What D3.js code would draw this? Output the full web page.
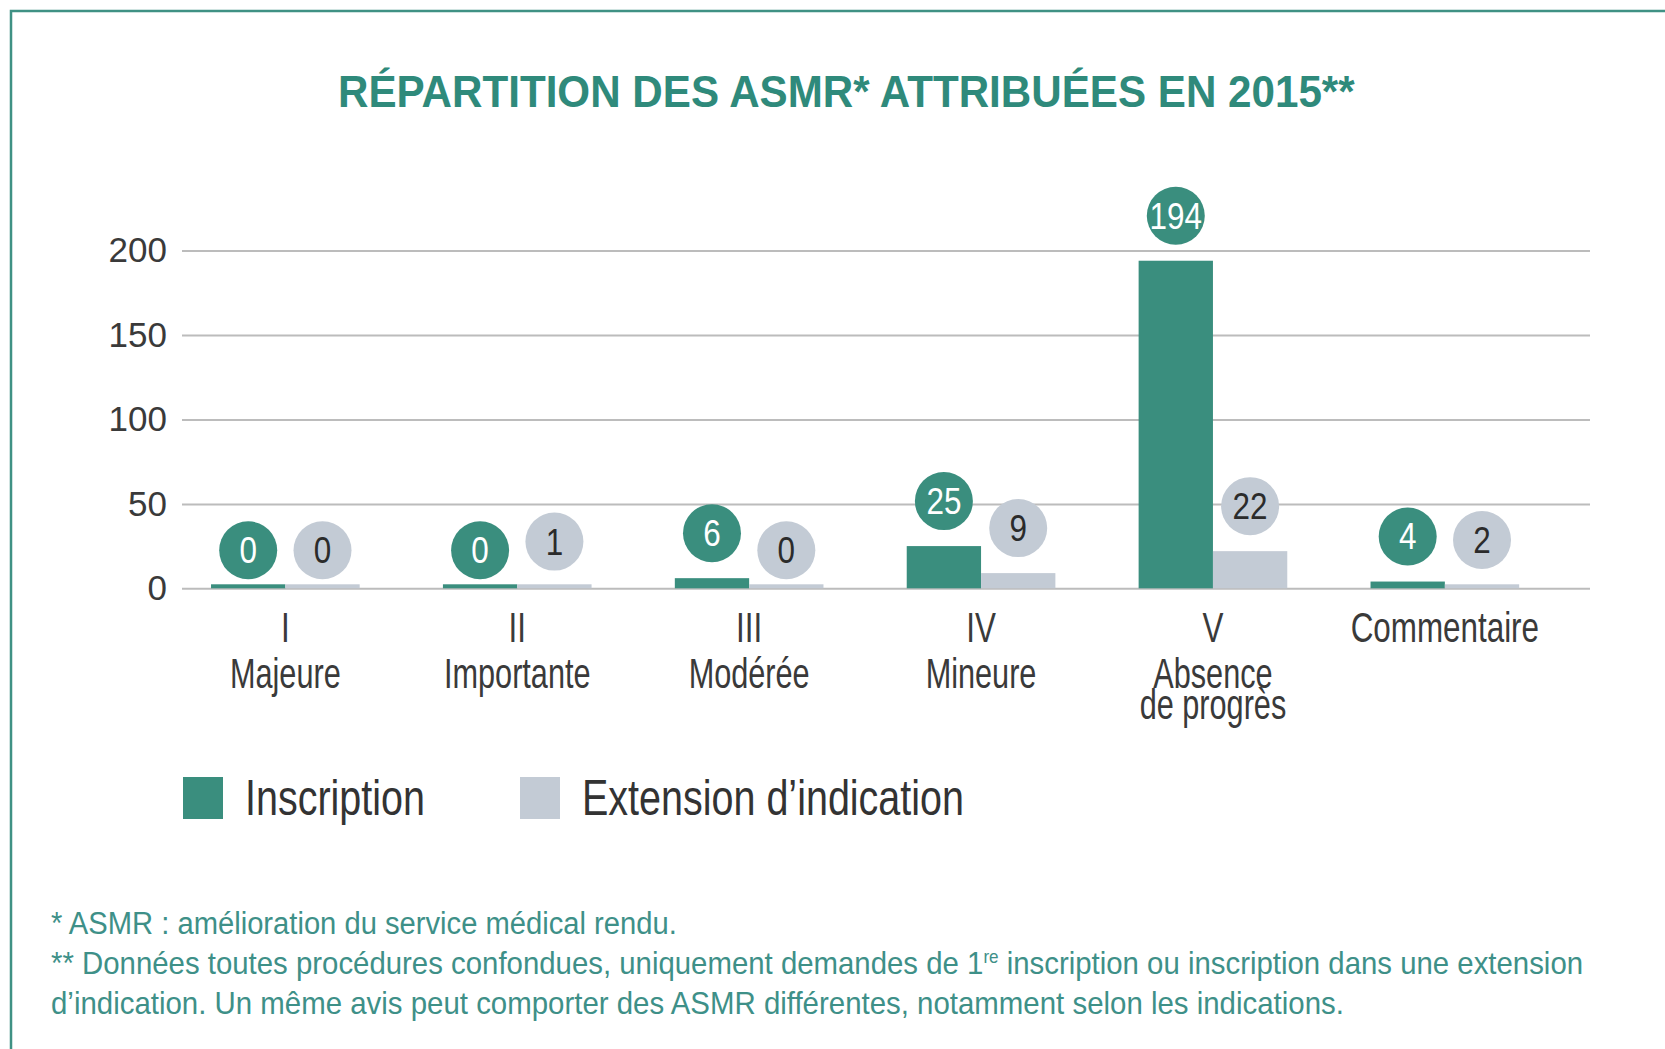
<!DOCTYPE html>
<html>
<head>
<meta charset="utf-8">
<script src="https://cdn.jsdelivr.net/npm/d3@7"></script>
<style>
  html, body { margin: 0; padding: 0; background: #ffffff; }
  svg { display: block; }
</style>
</head>
<body>
<script>
// ---------- DATA ----------
const categories = ["I", "II", "III", "IV", "V", "Commentaire"];
const sublabels = [["Majeure"], ["Importante"], ["Modérée"], ["Mineure"], ["Absence", "de progrès"], []];
const series = ["Inscription", "Extension d’indication"];
const inscription = [0, 0, 6, 25, 194, 4];
const extension = [0, 1, 0, 9, 22, 2];
const yTicks = [0, 50, 100, 150, 200];
const titleText = "RÉPARTITION DES ASMR* ATTRIBUÉES EN 2015**";
const footnote1 = "* ASMR : amélioration du service médical rendu.";
const footnote2a = "** Données toutes procédures confondues, uniquement demandes de 1";
const footnote2sup = "re";
const footnote2b = " inscription ou inscription dans une extension";
const footnote3 = "d’indication. Un même avis peut comporter des ASMR différentes, notamment selon les indications.";

// ---------- SETUP ----------
const W = 1665, H = 1049;
const FONT = "'Liberation Sans', Arial, Helvetica, sans-serif";
const TEAL = "#3a8e7e";
const GREY = "#c3cbd5";
const TEXT_TEAL = "#2f8a7b";

const svg = d3.select("body").append("svg").attr("width", W).attr("height", H);
svg.append("rect").attr("width", W).attr("height", H).attr("fill", "#ffffff");

// frame
svg.append("path")
  .attr("d", `M11,${H} V11 H${W}`)
  .attr("fill", "none").attr("stroke", "#3f9184").attr("stroke-width", 2.5);

// helper: horizontally fit a text to a target width
function fitText(node, x, y, width) {
  const L = node.getComputedTextLength();
  const k = width / L;
  d3.select(node).attr("transform", `translate(${x},${y}) scale(${k},1)`);
}

// title
const title = svg.append("text")
  .attr("font-family", FONT).attr("font-weight", "bold").attr("font-size", 45)
  .attr("fill", TEXT_TEAL).attr("text-anchor", "start")
  .text(titleText);
fitText(title.node(), 338, 107, 1017);

// ---------- SCALES ----------
const y = d3.scaleLinear().domain([0, 200]).range([588.3, 250.6]);
const x0 = d3.scaleBand().domain(categories).range([169.4, 1560.8])
  .paddingInner(0.359).paddingOuter(0.1795);
const x1 = d3.scaleBand().domain(series).range([0, x0.bandwidth()]);
const color = d3.scaleOrdinal().domain(series).range([TEAL, GREY]);

// ---------- Y AXIS + GRID ----------
const gridLeft = 182, gridRight = 1590;
const yAxis = svg.append("g")
  .attr("transform", `translate(${gridLeft},0)`)
  .call(d3.axisLeft(y).tickValues(yTicks).tickSize(-(gridRight - gridLeft)).tickPadding(15));
yAxis.select(".domain").remove();
yAxis.selectAll(".tick line").attr("stroke", "#bcbcbc").attr("stroke-width", 2);
yAxis.selectAll(".tick text")
  .attr("font-family", FONT).attr("font-size", 35).attr("fill", "#3a3a3a");

// ---------- BARS ----------
const rows = categories.map((c, i) => ({
  cat: c,
  vals: [{ s: series[0], v: inscription[i] }, { s: series[1], v: extension[i] }]
}));

const groups = svg.append("g").selectAll("g")
  .data(rows).join("g")
  .attr("transform", d => `translate(${x0(d.cat)},0)`);

const MIN_H = 4;
groups.selectAll("rect")
  .data(d => d.vals).join("rect")
  .attr("x", d => x1(d.s))
  .attr("width", x1.bandwidth())
  .attr("y", d => y(0) - Math.max(y(0) - y(d.v), MIN_H))
  .attr("height", d => Math.max(y(0) - y(d.v), MIN_H))
  .attr("fill", d => color(d.s));

// value bubbles
const bubbleY = d => d.v === 0 ? y(0) - 38 : y(d.v) - 45;
const bubbles = groups.selectAll("g.bubble")
  .data(d => d.vals).join("g")
  .attr("class", "bubble")
  .attr("transform", d => `translate(${x1(d.s) + x1.bandwidth() / 2},${bubbleY(d)})`);
bubbles.append("circle").attr("r", 29).attr("fill", d => color(d.s));
bubbles.append("text")
  .attr("font-family", FONT).attr("font-size", 37)
  .attr("text-anchor", "middle").attr("dominant-baseline", "central")
  .attr("transform", "scale(0.85,1)")
  .attr("fill", d => d.s === series[0] ? "#ffffff" : "#2b2b2b")
  .text(d => d.v);

// ---------- X AXIS LABELS ----------
const xAxis = svg.append("g")
  .attr("transform", `translate(0,${y(0)})`)
  .call(d3.axisBottom(x0).tickSize(0).tickPadding(23));
xAxis.select(".domain").remove();
xAxis.selectAll(".tick text")
  .attr("font-family", FONT).attr("font-size", 43).attr("fill", "#3a3a3a")
  .attr("transform", "scale(0.73,1)");

const sub = svg.append("g");
categories.forEach((c, i) => {
  sublabels[i].forEach((line, j) => {
    sub.append("text")
      .attr("font-family", FONT).attr("font-size", 42).attr("fill", "#3a3a3a")
      .attr("text-anchor", "middle")
      .attr("transform", `translate(${x0(c) + x0.bandwidth() / 2},${688 + j * 31}) scale(0.73,1)`)
      .text(line);
  });
});

// ---------- LEGEND ----------
const legendX = [183, 520];
const legend = svg.append("g").selectAll("g")
  .data(series).join("g")
  .attr("transform", (d, i) => `translate(${legendX[i]},777)`);
legend.append("rect").attr("width", 40).attr("height", 42).attr("fill", d => color(d));
legend.append("text")
  .attr("font-family", FONT).attr("font-size", 50).attr("fill", "#333333")
  .attr("transform", "translate(62,38) scale(0.79,1)")
  .text(d => d);

// ---------- FOOTNOTES ----------
const fn = svg.append("g").attr("font-family", FONT).attr("font-size", 31).attr("fill", "#3e9088");
const f1 = fn.append("text").text(footnote1);
fitText(f1.node(), 51, 934, 626);
const f2 = fn.append("text");
f2.append("tspan").text(footnote2a);
f2.append("tspan").attr("font-size", 18).attr("dy", -11).text(footnote2sup);
f2.append("tspan").attr("dy", 11).text(footnote2b);
fitText(f2.node(), 51, 974, 1533);
const f3 = fn.append("text").text(footnote3);
fitText(f3.node(), 51, 1014, 1293);
</script>
</body>
</html>
